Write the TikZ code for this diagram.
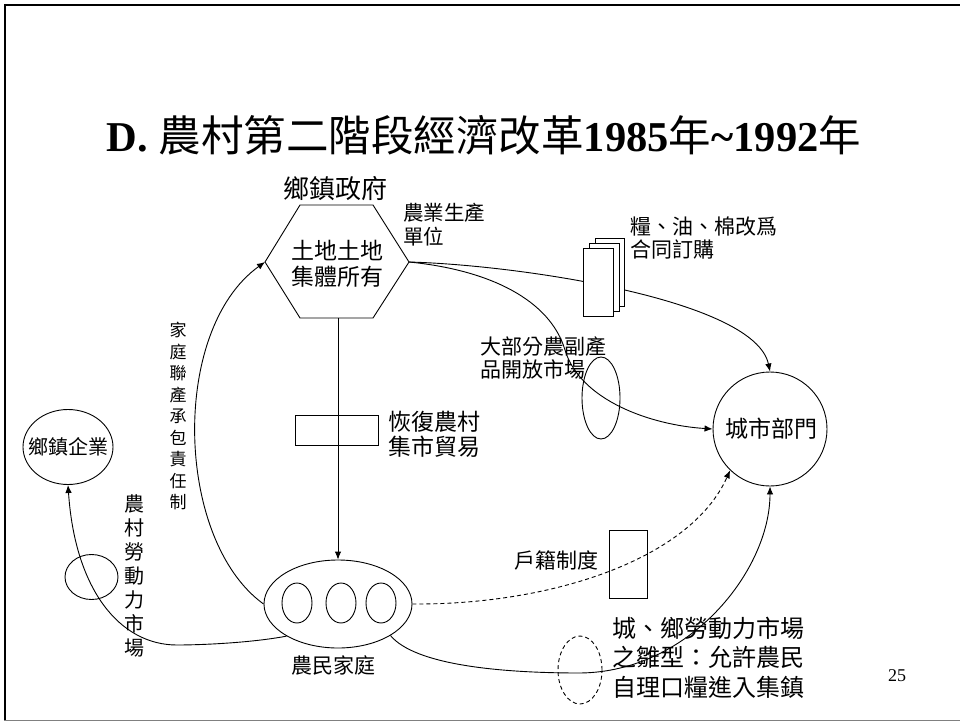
\documentclass[tikz,border=0pt]{standalone}
\usepackage{fontspec}
\setmainfont{Liberation Serif}
\newfontfamily\cjk{Noto Sans CJK TC}
\usetikzlibrary{arrows.meta,shapes.geometric}
\newcommand{\fs}[2]{\fontsize{#1}{#2}\selectfont}
\tikzset{
  lbl/.style 2 args={inner sep=0pt,font={\cjk\fs{#1}{#2}}},
  conn/.style={line width=0.9pt},
  arr/.style={conn,-{Latex[length=8pt,width=6.5pt]}},
  oval/.style={draw,line width=0.9pt,ellipse,inner sep=0pt},
  boxshape/.style={draw,line width=0.9pt,rectangle,inner sep=0pt},
  dsh/.style={dash pattern=on 4pt off 3pt}
}
\begin{document}
\begin{tikzpicture}[x=1pt,y=-1pt]
\useasboundingbox (0,0) rectangle (960,722);
% frame
\draw[line width=2pt] (4,5) -- (960,5);
\draw[line width=2pt] (5,4) -- (5,721);
\draw[gray,line width=1pt] (4,720.5) -- (960,720.5);

% title
\node[anchor=base,inner sep=0pt] (title) at (484,152)
  {\fs{42.5}{50}\bfseries D. {\cjk\mdseries 農村第二階段經濟改革}1985{\cjk\mdseries 年}\textasciitilde1992{\cjk\mdseries 年}};

% hexagon
\coordinate (hT1) at (300,205);
\coordinate (hT2) at (373,205);
\coordinate (hexR) at (409,262);
\coordinate (hB2) at (373,318);
\coordinate (hB1) at (300,318);
\coordinate (hexL) at (265,262);
\coordinate (hexB) at (338,318);
\draw[conn] (hT1) -- (hT2) -- (hexR) -- (hB2) -- (hB1) -- (hexL) -- cycle;
\node[lbl={23}{25.5},align=center] (hextext) at (337,264) {土地土地\\集體所有};
\node[lbl={26}{30}] (gov) at (335,189) {鄉鎮政府};
\node[lbl={20.5}{24},align=left,anchor=west] (unit) at (403,225) {農業生產\\單位};

% city sector
\node[draw,conn,circle,minimum size=114pt,inner sep=0pt] (city) at (770,429) {};
\node[lbl={23}{26}] (citytext) at (771,429) {城市部門};

% farmer households
\node[oval,minimum width=148pt,minimum height=88pt] (farmer) at (338,604) {};
\node[oval,minimum width=30pt,minimum height=40pt] (f1) at (297,603) {};
\node[oval,minimum width=30pt,minimum height=40pt] (f2) at (341,603) {};
\node[oval,minimum width=30pt,minimum height=40pt] (f3) at (381,603) {};
\node[lbl={21}{24}] (farmertext) at (333,665) {農民家庭};

% township enterprises
\node[oval,minimum width=90pt,minimum height=75pt] (ent) at (68,447) {};
\node[lbl={20}{24}] (enttext) at (68,447) {鄉鎮企業};

% curves from hexagon
\draw[arr] (hexR) .. controls (520,265) and (755,300) .. (city.north);
\draw[arr] (hexR) .. controls (490,270) and (550,300) .. (565,350)
   .. controls (580,400) and (650,425) .. (city.west);

% document stack (drawn over the curve)
\draw[conn,fill=white] (595,238) rectangle (624,306);
\draw[conn,fill=white] (589,243) rectangle (619,311);
\draw[conn,fill=white] (583,248) rectangle (613,316);
\node[lbl={21}{23},align=left,anchor=west] (grain) at (630,238) {糧、油、棉改爲\\合同訂購};

% market ellipse
\node[oval,minimum width=38pt,minimum height=82pt] (mkt) at (601,398) {};
\node[lbl={21}{23},align=left,anchor=west] (mkttext) at (480,358) {大部分農副產\\品開放市場};

% vertical connection
\draw[arr] (hexB) -- (farmer.north);
\node[boxshape,minimum width=83pt,minimum height=30pt] (rbox) at (336.5,430) {};
\node[lbl={23}{25},align=left,anchor=west] (rboxtext) at (388,434.5) {恢復農村\\集市貿易};

% household registration
\node[boxshape,minimum width=38pt,minimum height=68pt] (hbox) at (628,564) {};
\node[lbl={21}{24},anchor=east] (hboxtext) at (599,560) {戶籍制度};
\draw[arr,dsh] (farmer.east) .. controls (550,605) and (690,560) .. (city.226);

% urban-rural labour market
\node[oval,dsh,minimum width=44pt,minimum height=68pt] (lab) at (580,670) {};
\draw[arr] (farmer.-31) .. controls (415,665) and (500,673) .. (580,673)
   .. controls (690,672) and (770,570) .. (city.south);
\node[lbl={24}{29.5},align=left,anchor=west] (labtext) at (612,657.5) {城、鄉勞動力市場\\之雛型：允許農民\\自理口糧進入集鎮};

% household responsibility system
\draw[arr] (farmer.west) .. controls (175,540) and (170,330) .. (hexL);
\node[lbl={17}{21.5},align=center] (hrs) at (178,416) {家\\庭\\聯\\產\\承\\包\\責\\任\\制};

% rural labour market
\node[oval,minimum width=53pt,minimum height=45pt] (rlm) at (91.5,577) {};
\draw[arr] (farmer.212) .. controls (250,643) and (200,645) .. (177,645)
   .. controls (120,645) and (75,590) .. (ent.south);
\node[lbl={20}{24},align=center] (rlmtext) at (134,576) {農\\村\\勞\\動\\力\\市\\場};

% page number
\node[inner sep=0pt] (page) at (897,676) {\fs{18}{20}25};
\end{tikzpicture}
\end{document}
